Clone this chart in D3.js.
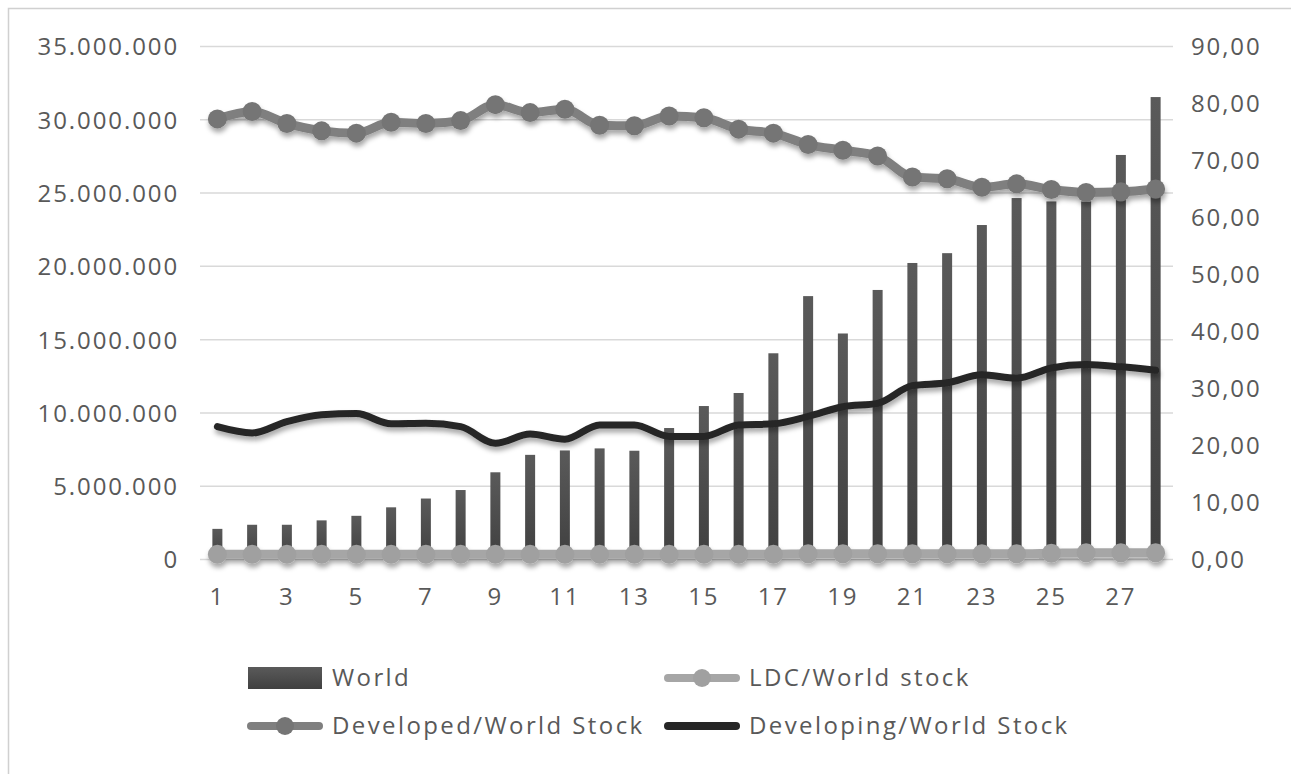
<!DOCTYPE html>
<html>
<head>
<meta charset="utf-8">
<script src="https://cdn.jsdelivr.net/npm/d3@7/dist/d3.min.js"></script>
<style>
	body{margin:0;background:#fff}
	text{font-family:"Open Sans",sans-serif;fill:#595959;letter-spacing:1.9px}
</style>
</head>
<body>
<div id="chart"></div>
<script>
var categories = [1,2,3,4,5,6,7,8,9,10,11,12,13,14,15,16,17,18,19,20,21,22,23,24,25,26,27,28]
var world = [2090000,2370000,2370000,2670000,2980000,3560000,4160000,4740000,5950000,7140000,7440000,7580000,7420000,8970000,10470000,11360000,14070000,17970000,15420000,18390000,20230000,20900000,22820000,24660000,24430000,24430000,27600000,31550000]
var ldc = [0.9,0.9,0.9,0.9,0.9,0.9,0.9,0.9,0.9,0.9,0.9,0.9,0.9,0.9,0.9,0.9,0.9,1.0,1.0,1.0,1.0,1.0,1.0,1.0,1.1,1.2,1.2,1.2]
var developed = [77.3,78.6,76.5,75.2,74.8,76.7,76.5,77.0,79.8,78.4,79.0,76.2,76.1,77.8,77.5,75.5,74.8,72.8,71.8,70.8,67.1,66.8,65.3,65.9,64.9,64.4,64.5,65.0]
var developing = [23.3,22.2,24.2,25.4,25.6,23.8,23.9,23.3,20.4,22.0,21.1,23.6,23.6,21.6,21.6,23.6,23.8,25.1,26.8,27.4,30.5,31.0,32.4,31.8,33.6,34.2,33.8,33.2]
var leftTicks = [0,5000000,10000000,15000000,20000000,25000000,30000000,35000000]
var rightTicks = [0,10,20,30,40,50,60,70,80,90]
var xTicks = [1,3,5,7,9,11,13,15,17,19,21,23,25,27]
var legendItems = [
	{name:"World",type:"bar"},
	{name:"LDC/World stock",type:"ldc"},
	{name:"Developed/World Stock",type:"dev"},
	{name:"Developing/World Stock",type:"ding"}
]

var width = 1291
var height = 774
var plotLeft = 200, plotRight = 1173, plotTop = 46.5, plotBottom = 559.5

var svg = d3.select("#chart").append("svg").attr("width",width).attr("height",height)

var defs = svg.append("defs")
defs.append("filter").attr("id","shadow").attr("x","-20%").attr("y","-20%").attr("width","140%").attr("height","160%")
	.append("feDropShadow").attr("dx",1).attr("dy",4).attr("stdDeviation",2.5)
	.attr("flood-color","#000").attr("flood-opacity",0.35)
var grad = defs.append("linearGradient").attr("id","barGrad").attr("x1",0).attr("x2",0).attr("y1",0).attr("y2",1)
grad.append("stop").attr("offset","0%").attr("stop-color","#5a5a5a")
grad.append("stop").attr("offset","100%").attr("stop-color","#404040")

// outer border
svg.append("rect").attr("x",8.5).attr("y",8.5).attr("width",1290).attr("height",780)
	.attr("fill","none").attr("stroke","#d0d0d0").attr("stroke-width",1.5)

var x = d3.scaleBand().domain(categories).range([plotLeft,plotRight])
var yL = d3.scaleLinear().domain([0,35000000]).range([plotBottom,plotTop])
var yR = d3.scaleLinear().domain([0,90]).range([plotBottom,plotTop])
var cx = function(d){ return x(d)+x.bandwidth()/2 }

// gridlines
svg.append("g").selectAll("line").data(leftTicks).enter().append("line")
	.attr("x1",plotLeft).attr("x2",plotRight)
	.attr("y1",function(d){return yL(d)}).attr("y2",function(d){return yL(d)})
	.attr("stroke","#d9d9d9").attr("stroke-width",1.5)

// left axis
var fmtL = function(d){ return d3.format(",")(d).replace(/,/g,".") }
var axL = svg.append("g").attr("transform","translate(179,0)")
	.call(d3.axisLeft(yL).tickValues(leftTicks).tickFormat(fmtL).tickSize(0).tickPadding(0))
axL.select(".domain").remove()
axL.selectAll("text").style("font-size","24px").attr("dy","0.35em")

// right axis
var fmtR = function(d){ return d3.format(".2f")(d).replace(".",",") }
var axR = svg.append("g").attr("transform","translate(1191,0)")
	.call(d3.axisRight(yR).tickValues(rightTicks).tickFormat(fmtR).tickSize(0).tickPadding(0))
axR.select(".domain").remove()
axR.selectAll("text").style("font-size","24px").attr("dy","0.35em")

// x axis labels
var axX = svg.append("g").attr("transform","translate(0,588)")
	.call(d3.axisBottom(x).tickValues(xTicks).tickSize(0).tickPadding(0))
axX.select(".domain").remove()
axX.selectAll("text").style("font-size","24px").attr("dy","0.71em")

// bars
var barW = 10
svg.append("g").selectAll("rect").data(categories).enter().append("rect")
	.attr("x",function(d){return cx(d)-barW/2})
	.attr("y",function(d,i){return yL(world[i])})
	.attr("width",barW)
	.attr("height",function(d,i){return plotBottom-yL(world[i])})
	.attr("fill","url(#barGrad)")

function drawLine(values,color,w,markers,markerColor){
	var g = svg.append("g").attr("filter","url(#shadow)")
	var line = d3.line().x(function(d,i){return cx(categories[i])}).y(function(d){return yR(d)}).curve(d3.curveMonotoneX)
	g.append("path").attr("d",line(values)).attr("fill","none")
		.attr("stroke",color).attr("stroke-width",w).attr("stroke-linejoin","round").attr("stroke-linecap","round")
	if(markers){
		g.selectAll("circle").data(values).enter().append("circle")
			.attr("cx",function(d,i){return cx(categories[i])})
			.attr("cy",function(d){return yR(d)})
			.attr("r",9.5).attr("fill",markerColor)
	}
}
drawLine(ldc,"#a6a6a6",9,true,"#a0a0a0")
drawLine(developed,"#7f7f7f",9,true,"#757575")
drawLine(developing,"#262626",7,false)

// legend
var legPos = [[248,678],[665,678],[248,726],[665,726]]
legendItems.forEach(function(item,i){
	var lx = legPos[i][0], ly = legPos[i][1]
	var g = svg.append("g")
	if(item.type=="bar"){
		g.append("rect").attr("x",lx).attr("y",ly-11).attr("width",74).attr("height",22).attr("fill","url(#barGrad)")
	}else if(item.type=="ding"){
		g.append("line").attr("x1",lx+3).attr("x2",lx+71).attr("y1",ly).attr("y2",ly)
			.attr("stroke","#262626").attr("stroke-width",8).attr("stroke-linecap","round")
	}else{
		var c = item.type=="ldc" ? "#a6a6a6" : "#7f7f7f"
		var mc = item.type=="ldc" ? "#a0a0a0" : "#757575"
		g.append("line").attr("x1",lx+3).attr("x2",lx+71).attr("y1",ly).attr("y2",ly)
			.attr("stroke",c).attr("stroke-width",8).attr("stroke-linecap","round")
		g.append("circle").attr("cx",lx+37).attr("cy",ly).attr("r",9).attr("fill",mc)
	}
	g.append("text").text(item.name).attr("x",lx+84).attr("y",ly).attr("dy","0.35em")
		.style("font-size","24px").style("letter-spacing","2.4px")
})
</script>
</body>
</html>
